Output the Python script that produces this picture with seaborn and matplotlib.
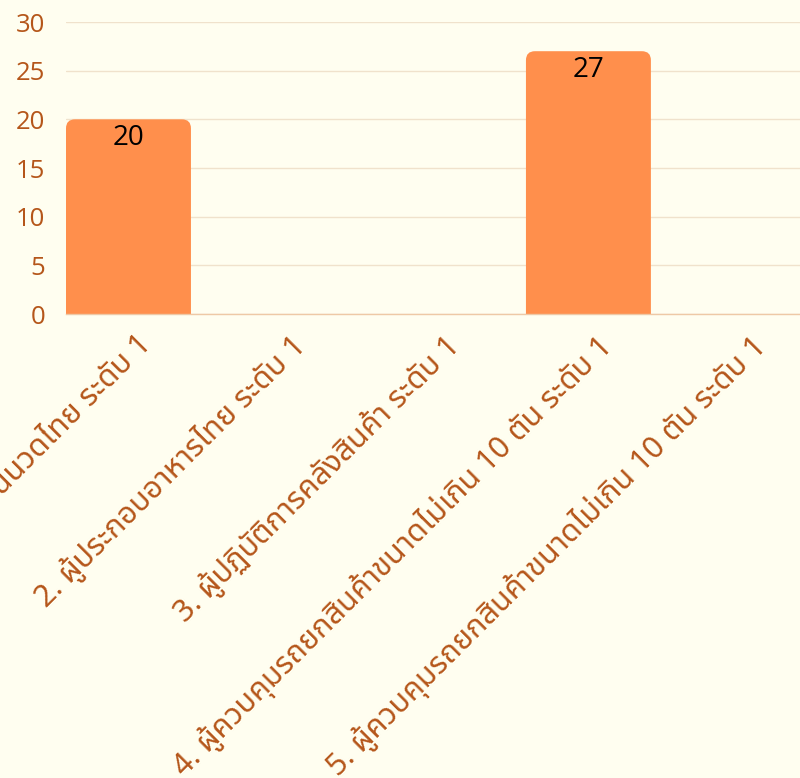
import matplotlib
matplotlib.use("Agg")
import matplotlib.pyplot as plt
import seaborn as sns
import pandas as pd
from matplotlib import font_manager
from matplotlib.patches import FancyBboxPatch
from matplotlib.transforms import ScaledTranslation

# --- data ---
categories = [
    "1. พนักงานนวดไทย ระดับ 1",
    "2. ผู้ประกอบอาหารไทย ระดับ 1",
    "3. ผู้ปฏิบัติการคลังสินค้า ระดับ 1",
    "4. ผู้ควบคุมรถยกสินค้าขนาดไม่เกิน 10 ตัน ระดับ 1",
    "5. ผู้ควบคุมรถยกสินค้าขนาดไม่เกิน 10 ตัน ระดับ 1",
]
values = [20, 0, 0, 27, 0]
yticks = [0, 5, 10, 15, 20, 25, 30]

bg = "#FFFEF0"
bar_color = "#FF8F4C"
brown = "#B5561A"
grid_color = "#F0E2CC"

sns.set_theme(style="white")

# pick a font that has Thai glyphs if one is installed
names = {f.name for f in font_manager.fontManager.ttflist}
thai_candidates = ["Noto Sans Thai", "Noto Sans Thai UI", "Noto Looped Thai",
                   "Noto Serif Thai", "Loma", "Garuda", "Kinnari", "Norasi",
                   "Sawasdee", "Umpush", "Waree", "Tlwg Typo", "Laksaman"]
thai = [n for n in thai_candidates if n in names]
num_font = [n for n in ["Open Sans", "Lato", "DejaVu Sans"] if n in names]
plt.rcParams["font.family"] = thai + num_font + ["DejaVu Sans"]

df = pd.DataFrame({"cat": categories, "val": values})

fig, ax = plt.subplots(figsize=(8, 7.78), dpi=100)
fig.patch.set_facecolor(bg)
ax.set_facecolor(bg)
fig.subplots_adjust(left=0.0825, right=1.0, top=1 - 22 / 778, bottom=1 - 314 / 778)

sns.barplot(data=df, x="cat", y="val", color=bar_color, width=0.815,
            saturation=1, ax=ax, zorder=2)

ax.set_ylim(0, 30)
ax.set_xlim(-0.4075, 4.38)
ax.set_yticks(yticks)
ax.set_xlabel("")
ax.set_ylabel("")

# rounded tops: replace the rectangles
fig.canvas.draw()
xpp = (ax.get_xlim()[1] - ax.get_xlim()[0]) / ax.bbox.width
ypp = (ax.get_ylim()[1] - ax.get_ylim()[0]) / ax.bbox.height
r = 9 * xpp
for p in list(ax.patches):
    x0, w, h = p.get_x(), p.get_width(), p.get_height()
    p.remove()
    if h <= 0:
        continue
    fb = FancyBboxPatch((x0, -2), w, h + 2,
                        boxstyle=f"round,pad=0,rounding_size={r}",
                        mutation_aspect=ypp / xpp,
                        facecolor=bar_color, edgecolor="none", zorder=2)
    ax.add_patch(fb)
    ax.text(x0 + w / 2, h - 1.9, f"{h:g}", ha="center", va="center",
            fontsize=20, color="black", zorder=3,
            family=num_font + ["DejaVu Sans"])

ax.yaxis.grid(True, color=grid_color, linewidth=1, zorder=0)
ax.xaxis.grid(False)
for s in ["top", "right", "left"]:
    ax.spines[s].set_visible(False)
ax.spines["bottom"].set_color("#EEC9A6")
ax.spines["bottom"].set_linewidth(1)

ax.tick_params(axis="y", length=0, pad=15, labelsize=18.5, labelcolor=brown)
ax.tick_params(axis="x", length=0, pad=4)
for t in ax.get_yticklabels():
    t.set_family(num_font + ["DejaVu Sans"])
ax.set_xticks(range(len(categories)))
ax.set_xticklabels(categories, rotation=45, ha="right", va="top",
                   rotation_mode="anchor", fontsize=22, color=brown,
                   fontweight="bold")
for t in ax.get_xticklabels():
    t.set_transform(t.get_transform() + ScaledTranslation(0.08, -0.1, fig.dpi_scale_trans))

fig.savefig("out.png", dpi=100, facecolor=bg)
